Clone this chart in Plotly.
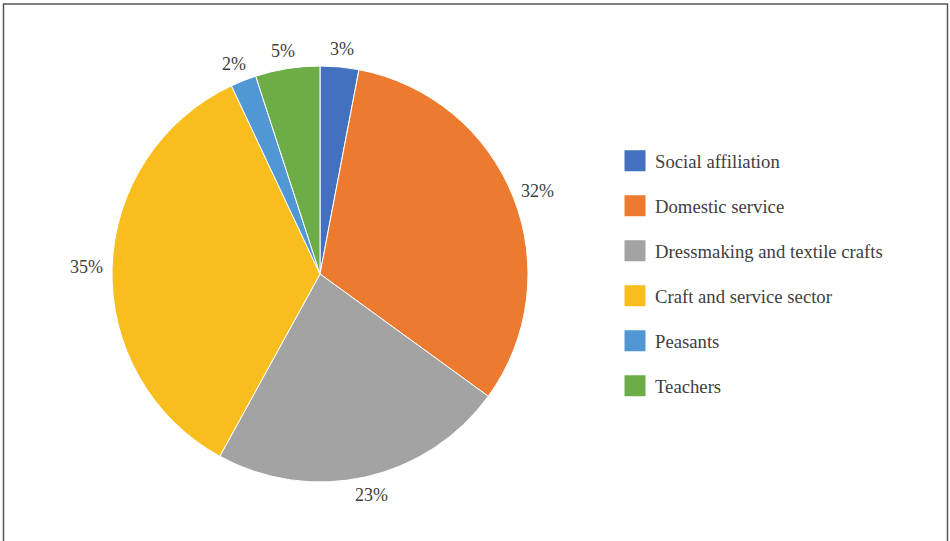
import math
import plotly.graph_objects as go

# Share of each occupational group (percent)
categories = ["Social affiliation", "Domestic service", "Dressmaking and textile crafts",
              "Craft and service sector", "Peasants", "Teachers"]
shares = [3, 32, 23, 35, 2, 5]
colors = ["#4470C0", "#EC7A2F", "#A3A3A3", "#F8BE1E", "#5197D4", "#6CAD47"]

W, H = 950, 541
cx, cy, r = 320, 274, 208  # pie centre and radius in pixels
TEXT = "#404040"
FONT = "Liberation Serif"

fig = go.Figure()
fig.add_trace(go.Pie(
    labels=categories,
    values=shares,
    sort=False,
    direction="clockwise",
    rotation=0,
    marker=dict(colors=colors, line=dict(color="white", width=1)),
    textinfo="none",
    domain=dict(x=[(cx - r) / W, (cx + r) / W], y=[(H - cy - r) / H, (H - cy + r) / H]),
    showlegend=False,
    hoverinfo="label+percent",
))

# Percentage labels just outside each slice, at the slice's mid-angle
total = sum(shares)
cum = 0
for v in shares:
    mid = (cum + v / 2) / total * 2 * math.pi
    cum += v
    s, c = math.sin(mid), math.cos(mid)
    wbox, hbox = 34, 18
    rad = r + 9
    px = cx + rad * s + s * wbox / 2
    py = cy - rad * c - c * hbox / 2
    fig.add_annotation(
        x=px / W, y=1 - py / H, xref="paper", yref="paper",
        text=f"{v}%", showarrow=False, xanchor="center", yanchor="middle",
        font=dict(family=FONT, size=18, color=TEXT),
    )

# Legend entries, one group per category so the gap between them can be set
for name, col in zip(categories, colors):
    fig.add_trace(go.Scatter(
        x=[None], y=[None], mode="markers", name=name, legendgroup=name,
        marker=dict(symbol="square", size=16, color=col, line=dict(color=col, width=7)),
    ))

fig.update_layout(
    width=W, height=H,
    margin=dict(l=0, r=0, t=0, b=0),
    paper_bgcolor="white", plot_bgcolor="white",
    xaxis=dict(visible=False), yaxis=dict(visible=False),
    legend=dict(
        x=615 / W, y=1 - 142 / H, xanchor="left", yanchor="top",
        font=dict(family=FONT, size=18.7, color=TEXT),
        tracegroupgap=17.7, itemsizing="trace", bgcolor="rgba(0,0,0,0)",
    ),
    shapes=[dict(type="rect", xref="paper", yref="paper",
                 x0=3.5 / W, x1=947.5 / W, y0=-0.05, y1=1 - 4 / H,
                 line=dict(color="#555555", width=1.5))],
)

fig.write_html("out.html")
